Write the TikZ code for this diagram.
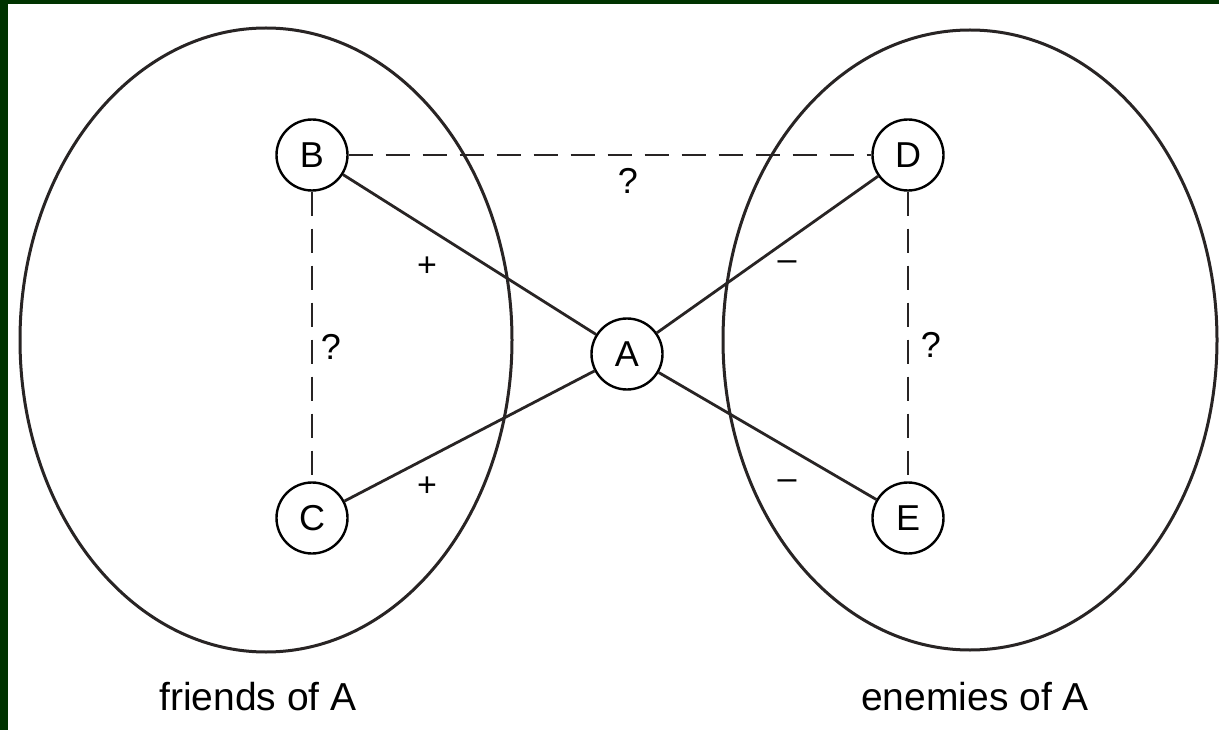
\documentclass[tikz,border=0pt]{standalone}
\usepackage{fontspec}
\setmainfont{Liberation Sans}
\begin{document}
\begin{tikzpicture}[x=1pt,y=-1pt,
  vtx/.style={circle,draw,line width=2.4pt,minimum size=71pt,inner sep=0pt,font=\fontsize{36}{40}\selectfont,fill=white},
  sol/.style={line width=2.8pt,draw={rgb,255:red,40;green,36;blue,36}},
  dsh/.style={line width=2.5pt,draw={rgb,255:red,40;green,36;blue,36},dash pattern=on 24pt off 13pt},
  grp/.style={line width=3pt,draw={rgb,255:red,40;green,36;blue,36}},
  lbl/.style={font=\fontsize{36}{40}\selectfont,inner sep=0pt},
  sgn/.style={font=\fontsize{34}{38}\selectfont,inner sep=0pt},
  captxt/.style={font=\fontsize{39}{44}\selectfont,inner sep=0pt}]
\useasboundingbox (0,0) rectangle (1219,730);
\fill[white] (0,0) rectangle (1219,730);
\definecolor{frame}{RGB}{0,51,0}
\fill[frame] (0,0) rectangle (8,730);
\fill[frame] (0,0) rectangle (1219,4);
% groups
\draw[grp] (266,340) ellipse [x radius=246, y radius=312];
\draw[grp] (970,340) ellipse [x radius=247, y radius=310];
% nodes
\node[vtx] (B) at (312,155) {B};
\node[vtx] (C) at (312,518) {C};
\node[vtx] (A) at (627,354) {A};
\node[vtx] (D) at (908,155) {D};
\node[vtx] (E) at (908,518) {E};
% edges
\draw[sol] (B) -- (A);
\draw[sol] (C) -- (A);
\draw[sol] (D) -- (A);
\draw[sol] (E) -- (A);
\draw[dsh] (B) -- (D);
\draw[dsh] (B) -- (C);
\draw[dsh] (D) -- (E);
% edge labels
\node[lbl] (qt) at (628,181) {?};
\node[lbl] (ql) at (331,347) {?};
\node[lbl] (qr) at (931,345) {?};
\node[sgn] (p1) at (427,267) {+};
\node[sgn] (p2) at (427,487) {+};
\node[sgn] (m1) at (787,266) {–};
\node[sgn] (m2) at (787,485) {–};
% captions
\node[captxt] (fa) at (258,697) {friends of A};
\node[captxt] (ea) at (975,697) {enemies of A};
\end{tikzpicture}
\end{document}
